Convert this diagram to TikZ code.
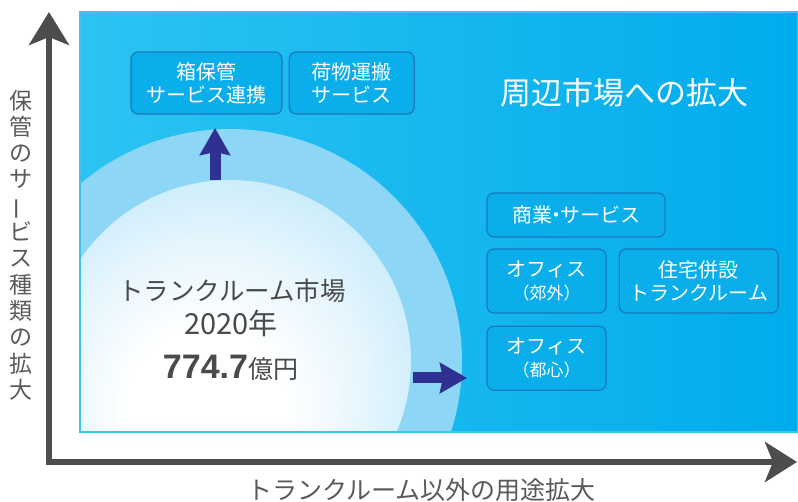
\documentclass[tikz,border=0pt]{standalone}
\usepackage{fontspec}
\usepackage{graphicx}
\setmainfont{Noto Sans CJK JP}
\newfontfamily\numfont{Liberation Sans}
\usetikzlibrary{arrows.meta,positioning}

\definecolor{axisgray}{HTML}{4D4D4D}
\definecolor{labelgray}{HTML}{5A5A5A}
\definecolor{textdark}{HTML}{4A4A4A}
\definecolor{arrowblue}{HTML}{2E3192}
\definecolor{panelleft}{HTML}{2CC3F2}
\definecolor{panelmid}{HTML}{04B9EF}
\definecolor{panelright}{HTML}{00ACEC}
\definecolor{panelline}{HTML}{3DC3EE}
\definecolor{ringouter}{HTML}{8DD6F5}
\definecolor{glowedge}{HTML}{BFE8FA}
\definecolor{glowmid}{HTML}{E4F5FD}
\definecolor{boxfill}{HTML}{09AEEA}
\definecolor{boxline}{HTML}{1B78BE}

\pgfdeclareradialshading{glow}{\pgfpoint{-4bp}{-8bp}}{color(0bp)=(white); color(11bp)=(white); color(22bp)=(glowmid); color(34bp)=(glowedge); color(60bp)=(glowedge)}

\tikzset{
  svcbox/.style={draw=boxline, fill=boxfill, line width=1.2pt, rounded corners=7pt,
    text=white, align=center, inner sep=0pt, font=\fontsize{20}{23}\selectfont},
  axisline/.style={draw=axisgray, line width=6pt, line join=miter,
    {Stealth[length=33pt,width=40pt,inset=8pt]}-{Stealth[length=32pt,width=40pt,inset=8pt]}},
  growarrow/.style={draw=arrowblue, line width=11pt,
    -{Stealth[length=27pt,width=30pt,inset=3pt]}}
}

\begin{document}
\begin{tikzpicture}[x=1pt,y=-1pt]
    \useasboundingbox (0,0) rectangle (798,502);

    % Panel with glow
    \begin{scope}
      \clip (80,12) rectangle (798,432);
      \shade[left color=panelleft, middle color=panelmid, right color=panelright]
        (80,12) rectangle (798,432);
      \fill[ringouter] (230,361) circle (232pt);
      \shade[shading=glow] (230,361) circle (181pt);
    \end{scope}
    \draw[panelline, line width=1.5pt] (80,12) rectangle (798,432);

    % Axes
    \coordinate (ytip) at (49,12);
    \coordinate (origin) at (49,462);
    \coordinate (xtip) at (797,462);
    \draw[axisline] (ytip) -- (origin) -- (xtip);

    % Axis labels
    \node[labelgray, align=center, font=\fontsize{23}{26.3}\selectfont] (ylabel) at (21,245)
      {保\\管\\の\\サ\\\rotatebox[origin=c]{90}{ー}\\ビ\\ス\\種\\類\\の\\拡\\大};
    \node[labelgray, font=\fontsize{25}{28}\selectfont] (xlabel) at (421.5,490)
      {トランクルーム以外の用途拡大};

    % Market size
    \node[textdark, font=\fontsize{25.5}{28}\selectfont] (market) at (232,290.5)
      {トランクルーム市場};
    \node[textdark, anchor=base, font=\fontsize{29}{32}\selectfont] (year) at (231,335)
      {2020年};
    \node[textdark, anchor=base, font=\fontsize{25}{28}\selectfont] (amount) at (230.5,379)
      {{\numfont\bfseries\fontsize{34}{36}\selectfont 774.7}億円};

    % Service boxes (vertical)
    \node[svcbox, minimum width=151pt, minimum height=62pt] (storage) at (206.5,83)
      {箱保管\\サービス連携};
    \node[svcbox, minimum width=125pt, minimum height=62pt, right=6pt of storage] (haul)
      {荷物運搬\\サービス};

    % Use boxes (horizontal)
    \node[svcbox, minimum width=178pt, minimum height=44pt] (commerce) at (576,215)
      {商業\kern-0.3em・\kern-0.3emサービス};
    \node[svcbox, minimum width=119pt, minimum height=64pt] (suburb) at (546.5,281)
      {オフィス\\{\fontsize{17}{20}\selectfont （郊外）}};
    \node[svcbox, minimum width=159pt, minimum height=64pt, right=12pt of suburb] (housing)
      {住宅併設\\トランクルーム};
    \node[svcbox, minimum width=119pt, minimum height=64pt, below=12pt of suburb] (central)
      {オフィス\\{\fontsize{17}{20}\selectfont （都心）}};

    % Title
    \node[white, font=\fontsize{31}{34}\selectfont] (title) at (624,93) {周辺市場への拡大};

    % Growth arrows
    \coordinate (upfrom) at (215,180);
    \coordinate (upto) at (215,128);
    \coordinate (rightfrom) at (413,378);
    \coordinate (rightto) at (467,378);
    \draw[growarrow] (upfrom) -- (upto);
    \draw[growarrow] (rightfrom) -- (rightto);
\end{tikzpicture}
\end{document}
